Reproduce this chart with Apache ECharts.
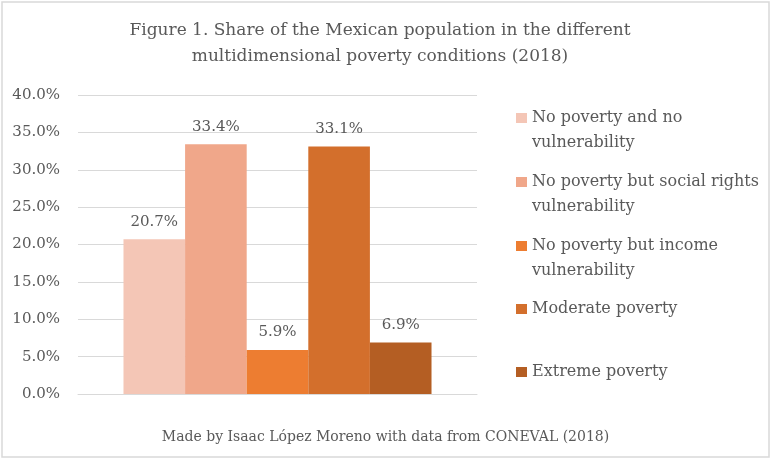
<!DOCTYPE html>
<html lang="en">
<head>
    <meta charset="UTF-8">
    <script src="https://cdn.jsdelivr.net/npm/echarts@6/dist/echarts.min.js"></script>
    <style>
        html, body { margin: 0; padding: 0; background: #fff; }
        #chart { width: 771px; height: 458px; }
    </style>
</head>
<body>
<div id="chart"></div>
<script>
    // share of population per condition (%), CONEVAL 2018
    var conditions = [
        'No poverty and no vulnerability',
        'No poverty but social rights vulnerability',
        'No poverty but income vulnerability',
        'Moderate poverty',
        'Extreme poverty'
    ];
    var legendLines = [
        ['No poverty and no', 'vulnerability'],
        ['No poverty but social rights', 'vulnerability'],
        ['No poverty but income', 'vulnerability'],
        ['Moderate poverty'],
        ['Extreme poverty']
    ];
    var shares = [20.7, 33.4, 5.9, 33.1, 6.9];
    var colors = ['#F4C6B6', '#F0A78A', '#ED7D31', '#D36F2C', '#B45E23'];
    var legendY = [118, 182, 246, 309, 372];

    var titleText = 'Figure 1. Share of the Mexican population in the different\nmultidimensional poverty conditions (2018)';
    var sourceText = 'Made by Isaac López Moreno with data from CONEVAL (2018)';

    var font = 'DejaVu Serif';
    var grey = '#595959';
    var lh = 25;

    let chart = echarts.init(document.getElementById('chart'));

    var option = {
        animation: false,
        title: [{
            text: sourceText,
            left: 'center',
            top: 428,
            padding: 0,
            textStyle: { fontFamily: font, fontSize: 14, fontWeight: 'normal', color: grey, lineHeight: 18 }
        }],
        grid: { left: 78, right: 294, top: 95, bottom: 64 },
        xAxis: {
            type: 'category',
            data: [''],
            axisLine: { lineStyle: { color: '#D9D9D9', width: 1 } },
            axisTick: { show: false },
            axisLabel: { show: false }
        },
        yAxis: {
            type: 'value',
            min: 0,
            max: 40,
            interval: 5,
            axisLine: { show: false },
            axisTick: { show: false },
            splitLine: { lineStyle: { color: '#D9D9D9', width: 1 } },
            axisLabel: {
                margin: 18,
                fontFamily: font,
                fontSize: 15,
                color: grey,
                formatter: function (v) { return v.toFixed(1) + '%'; }
            }
        },
        legend: [],
        series: []
    };

    conditions.forEach(function (name, i) {
        option.series.push({
            name: name,
            type: 'bar',
            data: [shares[i]],
            barGap: '0%',
            barCategoryGap: '22.8%',
            itemStyle: { color: colors[i] },
            label: {
                show: true,
                position: 'top',
                distance: 10,
                fontFamily: font,
                fontSize: 15,
                color: grey,
                formatter: function (p) { return p.value.toFixed(1) + '%'; }
            }
        });
        // empty first line so the icon sits next to the first text line
        var lines = legendLines[i];
        var txt = '\n' + lines.join('\n') + (lines.length === 1 ? '\n' : '');
        option.legend.push({
            data: [name],
            orient: 'vertical',
            left: 516,
            top: legendY[i] - 1.5 * lh,
            padding: 0,
            itemWidth: 11,
            itemHeight: 10,
            selectedMode: false,
            icon: 'rect',
            formatter: function () { return txt; },
            textStyle: { fontFamily: font, fontSize: 16, color: grey, lineHeight: lh }
        });
    });

    option.graphic = [{
        type: 'rect',
        shape: { x: 2, y: 2, width: 767, height: 455 },
        style: { fill: 'none', stroke: '#D9D9D9', lineWidth: 1.5 },
        silent: true
    }, {
        type: 'text',
        x: 380,
        y: 18,
        silent: true,
        style: {
            text: titleText,
            align: 'center',
            verticalAlign: 'top',
            font: '17px "DejaVu Serif"',
            fill: grey,
            lineHeight: 26
        }
    }];

    chart.setOption(option);
</script>
</body>
</html>
